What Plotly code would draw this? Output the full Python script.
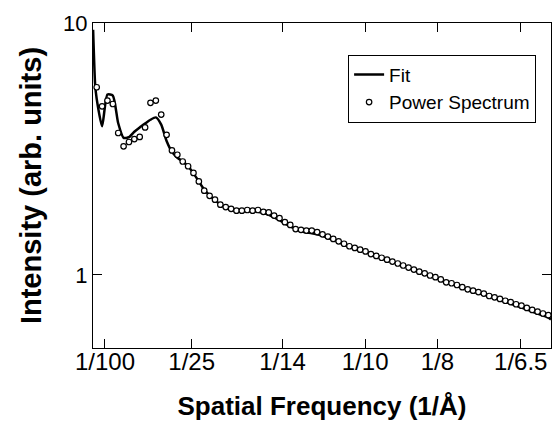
import plotly.graph_objects as go

# Power spectrum sample frequencies (1/Å)
freq = [0.00714, 0.00900, 0.01086, 0.01272, 0.01458, 0.01644, 0.01830, 0.02016, 0.02202, 0.02388,
        0.02574, 0.02760, 0.02946, 0.03132, 0.03318, 0.03504, 0.03690, 0.03876, 0.04062, 0.04248,
        0.04434, 0.04620, 0.04806, 0.04992, 0.05178, 0.05364, 0.05550, 0.05736, 0.05922, 0.06108,
        0.06294, 0.06480, 0.06666, 0.06852, 0.07038, 0.07224, 0.07410, 0.07596, 0.07782, 0.07968,
        0.08154, 0.08340, 0.08526, 0.08712, 0.08898, 0.09084, 0.09270, 0.09456, 0.09642, 0.09828,
        0.10014, 0.10200, 0.10386, 0.10572, 0.10758, 0.10944, 0.11130, 0.11316, 0.11502, 0.11688,
        0.11874, 0.12060, 0.12246, 0.12432, 0.12618, 0.12804, 0.12990, 0.13176, 0.13362, 0.13548,
        0.13734, 0.13920, 0.14106, 0.14292, 0.14478, 0.14664, 0.14850, 0.15036, 0.15222, 0.15408,
        0.15594, 0.15780, 0.15966, 0.16152, 0.16338]

power = [5.56, 4.67, 4.92, 4.77, 3.66, 3.24, 3.37, 3.46, 3.53, 3.85,
         4.82, 4.92, 4.33, 3.60, 3.12, 3.00, 2.82, 2.70, 2.54, 2.35,
         2.16, 2.06, 1.99, 1.90, 1.86, 1.83, 1.80, 1.80, 1.81, 1.80,
         1.81, 1.78, 1.77, 1.72, 1.68, 1.62, 1.58, 1.52, 1.51, 1.50,
         1.50, 1.48, 1.45, 1.42, 1.39, 1.36, 1.33, 1.30, 1.28, 1.26,
         1.24, 1.21, 1.19, 1.17, 1.15, 1.13, 1.11, 1.09, 1.07, 1.05,
         1.03, 1.015, 0.995, 0.98, 0.96, 0.935, 0.927, 0.912, 0.894, 0.877,
         0.866, 0.855, 0.843, 0.825, 0.815, 0.803, 0.79, 0.78, 0.765, 0.755,
         0.74, 0.726, 0.715, 0.703, 0.692]

fit_freq = [0.0059, 0.0066] + freq + [0.1643]
fit = [9.4, 5.7,
       5.0, 3.89, 5.2, 5.15, 4.0, 3.50, 3.52, 3.70, 3.85, 3.99,
       4.13, 4.22, 3.95, 3.40, 3.08, 2.92, 2.82, 2.70, 2.53, 2.35,
       2.18, 2.07, 1.98, 1.90, 1.85, 1.81, 1.79, 1.79, 1.79, 1.79,
       1.78, 1.76, 1.73, 1.69, 1.65, 1.60, 1.56, 1.52, 1.49, 1.475,
       1.465, 1.45, 1.43, 1.40, 1.38, 1.35, 1.32, 1.295, 1.275, 1.255,
       1.235, 1.21, 1.19, 1.17, 1.15, 1.13, 1.11, 1.09, 1.07, 1.05,
       1.03, 1.01, 0.99, 0.975, 0.955, 0.935, 0.922, 0.905, 0.888, 0.872,
       0.86, 0.848, 0.835, 0.822, 0.808, 0.795, 0.782, 0.77, 0.755, 0.742,
       0.73, 0.716, 0.703, 0.69, 0.678,
       0.665]

x_tickvals = [0.01, 0.04, 1 / 14, 0.1, 0.125, 1 / 6.5]
x_ticktext = ["1/100", "1/25", "1/14", "1/10", "1/8", "1/6.5"]
y_tickvals = [1, 10]
y_ticktext = ["1", "10"]

FONT = "Liberation Sans, Arial, Helvetica, sans-serif"

fig = go.Figure()
fig.add_trace(go.Scatter(
    x=fit_freq, y=fit, mode="lines", name="Fit",
    line=dict(color="black", width=2.5, shape="spline", smoothing=0.6),
))
fig.add_trace(go.Scatter(
    x=freq, y=power, mode="markers", name="Power Spectrum",
    marker=dict(symbol="circle", size=5.5, color="white",
                line=dict(color="black", width=1.2)),
))

fig.update_layout(
    width=552, height=421,
    margin=dict(l=93, r=1, t=23, b=73),
    paper_bgcolor="white", plot_bgcolor="white",
    font=dict(family=FONT, color="black", size=22),
    showlegend=True,
    legend=dict(
        x=0.557, y=0.903, xanchor="left", yanchor="top",
        bordercolor="black", borderwidth=1, bgcolor="white",
        font=dict(size=19, family=FONT, color="black"),
        tracegroupgap=0, itemwidth=30,
    ),
    xaxis=dict(
        range=[0.00586, 0.1643],
        tickvals=x_tickvals, ticktext=x_ticktext,
        ticks="inside", ticklen=9, tickwidth=1.2, tickcolor="black",
        showline=True, linecolor="black", linewidth=1.3, mirror="ticks",
        showgrid=False, zeroline=False,
        tickfont=dict(size=24, family=FONT),
        ticklabelstandoff=-8,
        title=dict(text="Spatial Frequency (1/Å)",
                   font=dict(size=26, family=FONT, weight="bold"), standoff=24),
    ),
    yaxis=dict(
        type="log", range=[-0.29, 1.0],
        tickvals=y_tickvals, ticktext=y_ticktext,
        ticks="inside", ticklen=9, tickwidth=1.2, tickcolor="black",
        showline=True, linecolor="black", linewidth=1.3, mirror="ticks",
        showgrid=False, zeroline=False,
        tickfont=dict(size=22, family=FONT),
        title=dict(text="Intensity (arb. units)",
                   font=dict(size=29, family=FONT, weight="bold"), standoff=12),
    ),
)

fig.write_html("out.html",
               config={"displayModeBar": False},
               post_script="document.body.style.margin='0';document.body.style.overflow='hidden';")
